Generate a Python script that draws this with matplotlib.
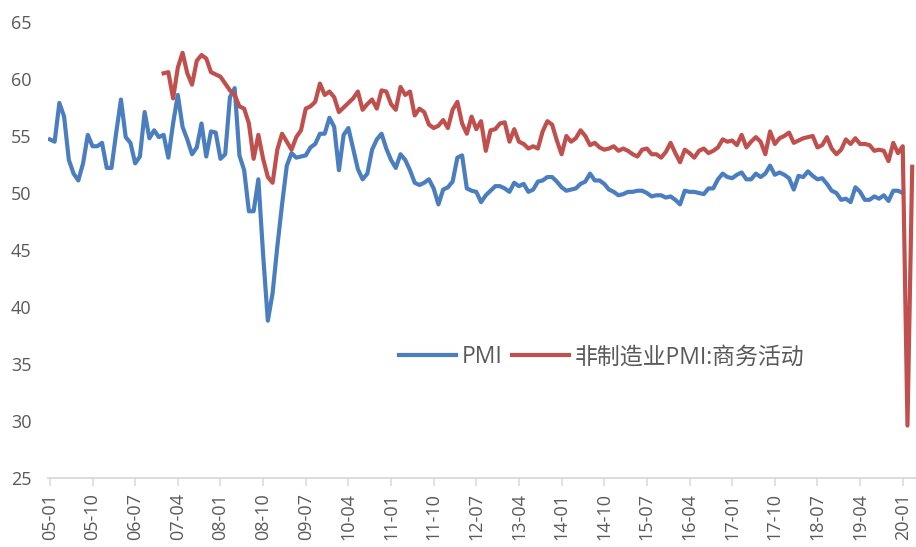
import numpy as np
import pandas as pd
import matplotlib
matplotlib.use("Agg")
import matplotlib.pyplot as plt

plt.rcParams['font.family'] = ['Open Sans', 'Noto Sans CJK SC', 'DejaVu Sans']

# Monthly data
pmi_start = "2005-01"
pmi = [
    54.7, 54.5, 57.9, 56.7, 52.9, 51.7, 51.1, 52.6, 55.1, 54.1, 54.1, 54.4,   # 2005
    52.2, 52.2, 55.3, 58.2, 54.9, 54.4, 52.6, 53.2, 57.1, 54.8, 55.5, 54.9,   # 2006
    55.1, 53.1, 56.1, 58.6, 55.8, 54.7, 53.4, 54.0, 56.1, 53.2, 55.4, 55.3,   # 2007
    53.0, 53.4, 58.4, 59.2, 53.3, 52.0, 48.4, 48.4, 51.2, 44.6, 38.8, 41.2,   # 2008
    45.3, 49.0, 52.4, 53.5, 53.1, 53.2, 53.3, 54.0, 54.3, 55.2, 55.2, 56.6,   # 2009
    55.8, 52.0, 55.1, 55.7, 53.9, 52.1, 51.2, 51.7, 53.8, 54.7, 55.2, 53.9,   # 2010
    52.9, 52.2, 53.4, 52.9, 52.0, 50.9, 50.7, 50.9, 51.2, 50.4, 49.0, 50.3,   # 2011
    50.5, 51.0, 53.1, 53.3, 50.4, 50.2, 50.1, 49.2, 49.8, 50.2, 50.6, 50.6,   # 2012
    50.4, 50.1, 50.9, 50.6, 50.8, 50.1, 50.3, 51.0, 51.1, 51.4, 51.4, 51.0,   # 2013
    50.5, 50.2, 50.3, 50.4, 50.8, 51.0, 51.7, 51.1, 51.1, 50.8, 50.3, 50.1,   # 2014
    49.8, 49.9, 50.1, 50.1, 50.2, 50.2, 50.0, 49.7, 49.8, 49.8, 49.6, 49.7,   # 2015
    49.4, 49.0, 50.2, 50.1, 50.1, 50.0, 49.9, 50.4, 50.4, 51.2, 51.7, 51.4,   # 2016
    51.3, 51.6, 51.8, 51.2, 51.2, 51.7, 51.4, 51.7, 52.4, 51.6, 51.8, 51.6,   # 2017
    51.3, 50.3, 51.5, 51.4, 51.9, 51.5, 51.2, 51.3, 50.8, 50.2, 50.0, 49.4,   # 2018
    49.5, 49.2, 50.5, 50.1, 49.4, 49.4, 49.7, 49.5, 49.8, 49.3, 50.2, 50.2,   # 2019
    50.0,                                                                     # 2020
]

nonmfg_start = "2007-01"
nonmfg = [
    60.5, 60.6, 58.3, 61.0, 62.3, 60.5, 59.5, 61.6, 62.1, 61.8, 60.6, 60.4,   # 2007
    60.2, 59.6, 59.0, 58.6, 57.6, 57.4, 56.1, 53.0, 55.1, 53.0, 51.4, 50.9,   # 2008
    53.8, 55.2, 54.5, 53.8, 54.9, 55.5, 57.4, 57.6, 58.0, 59.6, 58.6, 58.9,   # 2009
    58.4, 57.1, 57.5, 57.9, 58.3, 58.9, 57.3, 57.8, 58.2, 57.4, 59.0, 58.9,   # 2010
    57.8, 57.3, 59.3, 58.6, 58.9, 56.8, 57.4, 57.1, 56.0, 55.7, 55.9, 56.4,   # 2011
    55.7, 57.3, 58.0, 56.1, 55.2, 56.7, 55.6, 56.3, 53.7, 55.5, 55.6, 56.1,   # 2012
    56.2, 54.5, 55.6, 54.5, 54.3, 53.9, 54.1, 53.9, 55.4, 56.3, 56.0, 54.6,   # 2013
    53.4, 55.0, 54.5, 54.8, 55.5, 55.0, 54.2, 54.4, 54.0, 53.8, 53.9, 54.1,   # 2014
    53.7, 53.9, 53.7, 53.4, 53.2, 53.8, 53.9, 53.4, 53.4, 53.1, 53.6, 54.4,   # 2015
    53.5, 52.7, 53.8, 53.5, 53.1, 53.7, 53.9, 53.5, 53.7, 54.0, 54.7, 54.5,   # 2016
    54.6, 54.2, 55.1, 54.0, 54.5, 54.9, 54.5, 53.4, 55.4, 54.3, 54.8, 55.0,   # 2017
    55.3, 54.4, 54.6, 54.8, 54.9, 55.0, 54.0, 54.2, 54.9, 53.9, 53.4, 53.8,   # 2018
    54.7, 54.3, 54.8, 54.3, 54.3, 54.2, 53.7, 53.8, 53.7, 52.8, 54.4, 53.5,   # 2019
    54.1, 29.6, 52.3,                                                         # 2020
]

series_names = ["PMI", "非制造业PMI:商务活动"]
colors = ["#4A7EBF", "#C0504D"]
yticks = [25, 30, 35, 40, 45, 50, 55, 60, 65]

# Month axis
all_months = pd.period_range("2005-01", "2020-03", freq="M")
pmi_months = pd.period_range(pmi_start, periods=len(pmi), freq="M")
nm_months = pd.period_range(nonmfg_start, periods=len(nonmfg), freq="M")
pos = {p: i for i, p in enumerate(all_months)}
x_pmi = [pos[p] for p in pmi_months]
x_nm = [pos[p] for p in nm_months]

tick_idx = list(range(0, len(all_months), 9))
tick_labels = [all_months[i].strftime("%y-%m") for i in tick_idx]

fig = plt.figure(figsize=(9.16, 5.47), dpi=100)
ax = fig.add_axes([0.0524, 0.1261, 0.9476, 0.8337])

ax.plot(x_pmi, pmi, color=colors[0], lw=3.0, label=series_names[0], solid_joinstyle="round")
ax.plot(x_nm, nonmfg, color=colors[1], lw=3.0, label=series_names[1], solid_joinstyle="round")

ax.set_ylim(25, 65)
ax.set_yticks(yticks)
ax.set_xlim(-0.4, 182.8)
ax.set_xticks(tick_idx)
ax.set_xticklabels(tick_labels, rotation=90)

for s in ["top", "right", "left"]:
    ax.spines[s].set_visible(False)
ax.spines["bottom"].set_color("#D9D9D9")
ax.spines["bottom"].set_linewidth(1.3)
ax.tick_params(axis="x", length=6, width=1.1, color="#D9D9D9", pad=5,
               labelsize=13, labelcolor="#595959")
ax.tick_params(axis="y", length=0, pad=12, labelsize=13, labelcolor="#595959")

leg = ax.legend(loc="center", bbox_to_anchor=(0.6377, 0.265), ncol=2, frameon=False,
                fontsize=16.5, handlelength=2.5, handletextpad=0.25, columnspacing=0.4,
                labelcolor="#595959")

fig.savefig("out.png", dpi=100)
